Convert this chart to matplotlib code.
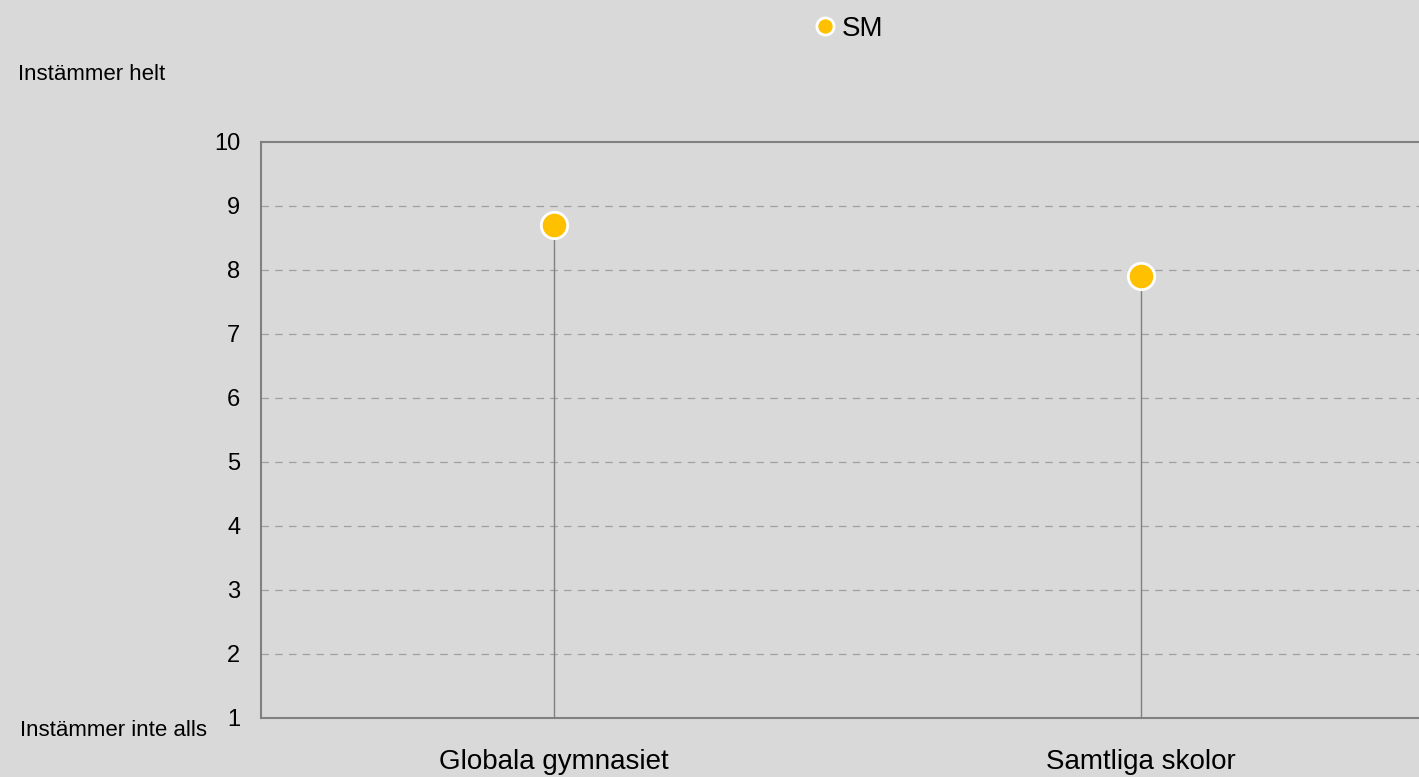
import matplotlib
matplotlib.use('Agg')
import matplotlib.pyplot as plt

plt.rcParams['font.family'] = ['Liberation Sans', 'DejaVu Sans']

categories = ['Globala gymnasiet', 'Samtliga skolor']
values = [8.7, 7.91]
series_name = 'SM'
yticks = [1, 2, 3, 4, 5, 6, 7, 8, 9, 10]

bg = '#d9d9d9'
yellow = '#ffc000'
gray = '#808080'

fig = plt.figure(figsize=(14.19, 7.77), dpi=100, facecolor=bg)
# right edge sits past the figure, as in the reference
ax = fig.add_axes([261 / 1419, 59 / 777, (1434 - 261) / 1419, (718 - 142) / 777])
ax.set_facecolor(bg)

x = list(range(len(categories)))
ax.vlines(x, 1, values, color=gray, lw=1, zorder=2)
ax.plot(x, values, 'o', ms=19, mfc=yellow, mec='white', mew=2, zorder=3,
        label=series_name, clip_on=False)

ax.set_xlim(-0.5, 1.5)
ax.set_ylim(1, 10)
ax.set_yticks(yticks)
ax.set_xticks(x)
ax.set_xticklabels(categories, fontsize=20)
ax.tick_params(axis='y', labelsize=17, length=0, pad=15)
ax.tick_params(axis='x', length=0, pad=22)
for t in yticks[1:-1]:
    ax.axhline(t, color='#a0a0a0', lw=0.9, ls=(0, (6, 5)), zorder=1)

for side in ['top', 'left', 'bottom']:
    ax.spines[side].set_color(gray)
    ax.spines[side].set_linewidth(1.5)
ax.spines['right'].set_visible(False)

fig.legend(handles=ax.get_lines()[:1], loc='center', bbox_to_anchor=(850 / 1419, 1 - 29 / 777),
           frameon=False, fontsize=20, markerscale=0.65, handlelength=0.6, handletextpad=0.3)

fig.text(18 / 1419, 1 - 75 / 777, 'Instämmer helt', fontsize=16, va='center', ha='left')
fig.text(20 / 1419, 1 - 731 / 777, 'Instämmer inte alls', fontsize=16, va='center', ha='left')

fig.savefig('out.png', dpi=100, facecolor=bg)
